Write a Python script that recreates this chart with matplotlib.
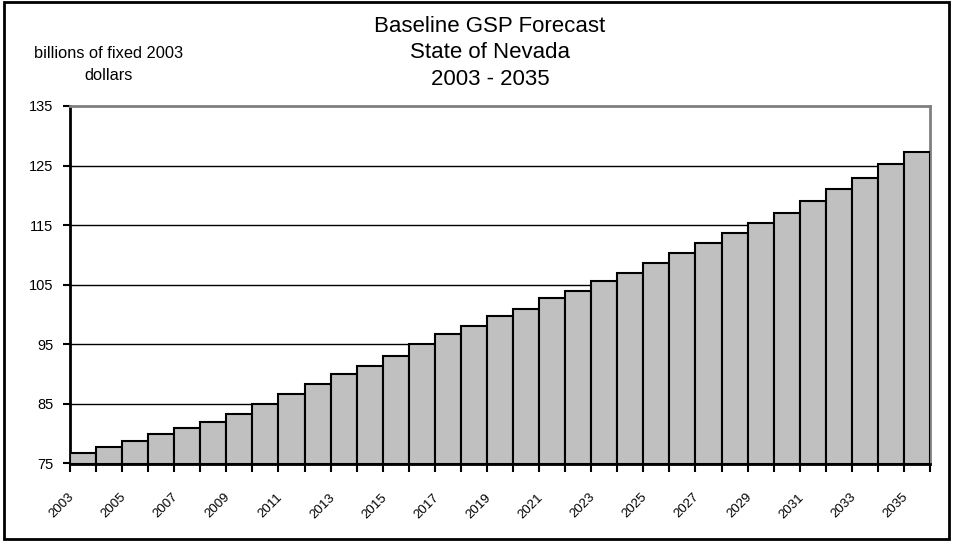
import numpy as np
import matplotlib
matplotlib.use("Agg")
import matplotlib.pyplot as plt
from matplotlib.patches import Rectangle

plt.rcParams['font.family'] = ['Liberation Sans', 'DejaVu Sans']

years = list(range(2003, 2036))
gsp = [76.8, 77.8, 78.8, 79.9, 80.9, 81.9, 83.3, 85.0, 86.6, 88.3,
       90.0, 91.4, 93.1, 95.0, 96.7, 98.0, 99.7, 101.0, 102.7, 104.0,
       105.7, 107.0, 108.7, 110.3, 112.0, 113.7, 115.3, 117.0, 119.0, 121.0,
       123.0, 125.3, 127.3]
yticks = [75, 85, 95, 105, 115, 125, 135]
title_lines = ["Baseline GSP Forecast", "State of Nevada", "2003 - 2035"]
ylabel_lines = ["billions of fixed 2003", "dollars"]

W, H = 954, 541
fig = plt.figure(figsize=(W / 100, H / 100), dpi=100)
ax = fig.add_axes([70 / W, (H - 463.5) / H, 860 / W, (463.5 - 106) / H])

x = np.arange(len(years))
ax.bar(x, np.array(gsp) - 75, bottom=75, width=1.0, color='#c0c0c0',
       edgecolor='black', linewidth=1.5, zorder=3)

ax.set_xlim(-0.5, len(years) - 0.5)
ax.set_ylim(75, 135)
ax.set_yticks(yticks)
ax.set_yticklabels([str(v) for v in yticks], fontsize=10.5)
for v in yticks[1:-1]:
    ax.axhline(v, color='black', lw=1, zorder=1)

# category boundary ticks
ax.set_xticks(np.arange(-0.5, len(years)), minor=True)
ax.tick_params(axis='x', which='minor', length=6, width=1.5, direction='out', color='black')
# labels every other year, placed like Excel's rotated labels
ax.set_xticks(x[::2] - 0.42)
ax.set_xticklabels([str(y) for y in years[::2]], rotation=45, ha='right',
                   va='center', rotation_mode='anchor', fontsize=9.5)
ax.tick_params(axis='x', which='major', length=0, pad=23)
ax.tick_params(axis='y', length=5, width=1.5, direction='out', pad=7)

for s in ['left', 'bottom']:
    ax.spines[s].set_color('black')
    ax.spines[s].set_linewidth(2)
for s in ['top', 'right']:
    ax.spines[s].set_color('#808080')
    ax.spines[s].set_linewidth(2)
ax.spines['bottom'].set_zorder(4)

for i, line in enumerate(title_lines):
    fig.text(490 / W, 1 - (31.7 + 26.7 * i) / H, line, ha='center',
             va='baseline', fontsize=16)
for i, line in enumerate(ylabel_lines):
    fig.text(108.5 / W, 1 - (58.3 + 21.7 * i) / H, line, ha='center',
             va='baseline', fontsize=11.8)

fig.patches.append(Rectangle((4 / W, 2 / H), 945 / W, 537 / H, fill=False,
                             edgecolor='black', lw=2, transform=fig.transFigure))

fig.savefig("out.png", dpi=100)
